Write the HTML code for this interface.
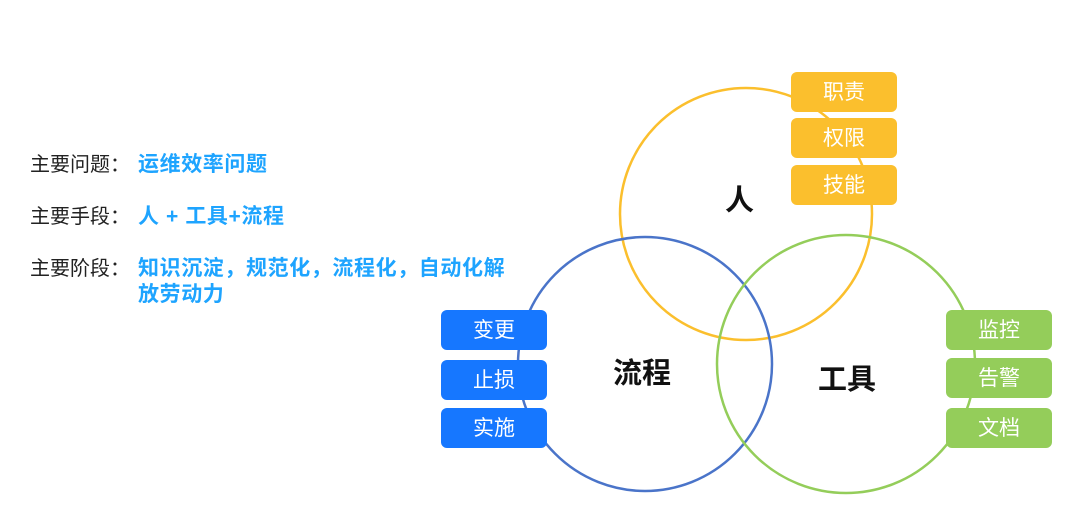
<!DOCTYPE html>
<html><head><meta charset="utf-8"><style>
body{margin:0;width:1080px;height:525px;background:#fff;position:relative;overflow:hidden;font-family:"Liberation Sans","Noto Sans CJK SC",sans-serif}
.t{position:absolute;left:30px;font-size:20px;color:#222;line-height:26px;white-space:nowrap}
.t span{display:inline-block;width:108px}
.t b{color:#1ea4ff;font-size:21px;letter-spacing:0.6px}
.box{position:absolute;width:106px;height:40px;border-radius:6px;color:#fff;font-size:21px;text-align:center;line-height:42px}
.y{background:#fbbf2d;left:791px}.bl{background:#1677ff;left:441px}.g{background:#94cd5a;left:946px}
.lab{position:absolute;font-weight:bold;font-size:29px;color:#111}
</style></head><body>
<div class="t" style="top:152px"><span>主要问题：</span><b>运维效率问题</b></div>
<div class="t" style="top:204px"><span>主要手段：</span><b>人 + 工具+流程</b></div>
<div class="t" style="top:256px"><span>主要阶段：</span><b>知识沉淀，规范化，流程化，自动化解</b></div>
<div class="t" style="top:282px;left:138px"><b>放劳动力</b></div>
<svg width="1080" height="525" style="position:absolute;left:0;top:0">
<circle cx="746" cy="214" r="126" fill="none" stroke="#fbbf2d" stroke-width="2.5"/>
<circle cx="645" cy="364" r="127" fill="none" stroke="#4a74c9" stroke-width="2.5"/>
<circle cx="846" cy="364" r="129" fill="none" stroke="#94cd5a" stroke-width="2.5"/>
</svg>
<div class="box y" style="top:72px">职责</div>
<div class="box y" style="top:118px">权限</div>
<div class="box y" style="top:165px">技能</div>
<div class="box bl" style="top:310px">变更</div>
<div class="box bl" style="top:360px">止损</div>
<div class="box bl" style="top:408px">实施</div>
<div class="box g" style="top:310px">监控</div>
<div class="box g" style="top:358px">告警</div>
<div class="box g" style="top:408px">文档</div>
<div class="lab" style="left:725px;top:177px">人</div>
<div class="lab" style="left:613px;top:350px">流程</div>
<div class="lab" style="left:818px;top:356px">工具</div>
</body></html>
